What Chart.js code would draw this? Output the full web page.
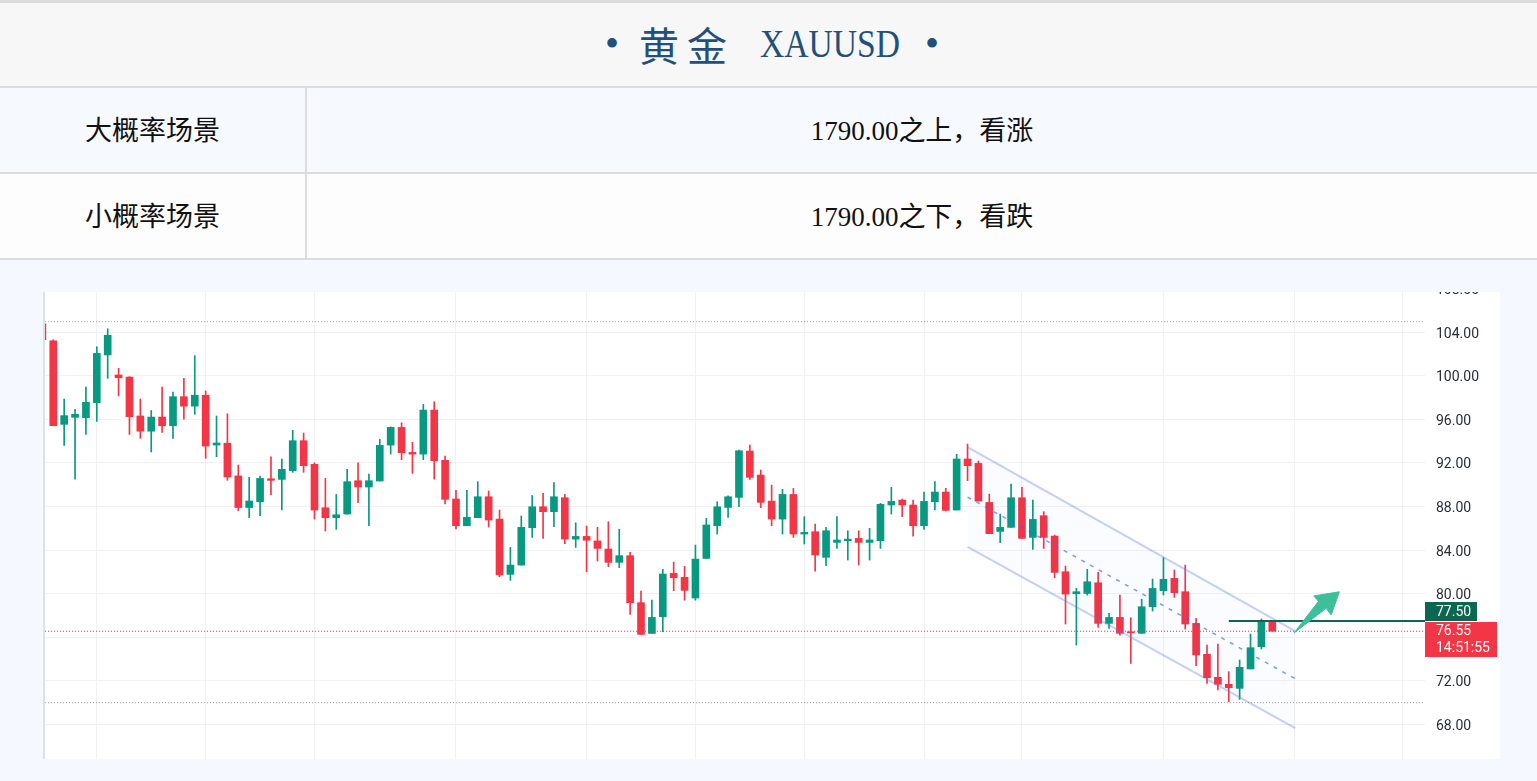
<!DOCTYPE html>
<html>
<head>
<meta charset="utf-8">
<script src="https://cdn.jsdelivr.net/npm/chart.js@4.4.0/dist/chart.umd.min.js"></script>
<style>
  html, body { margin: 0; padding: 0; }
  body { width: 1537px; height: 781px; background: #f5f9ff; position: relative; overflow: hidden;
         font-family: "Liberation Serif", "Noto Sans CJK SC", serif; color: #111; }
  #title { position: absolute; left: 0; top: 0; width: 1537px; height: 83px; background: #f7f7f7;
           border-top: 3px solid #dcdcdc; border-bottom: 2px solid #dcdcdc; color: #22507a; }
  #title span { position: absolute; top: 21px; line-height: 40px; font-size: 40px; white-space: nowrap; }
  #title .cn { font-family: "Noto Sans CJK SC"; letter-spacing: 8px; }
  #title .en { font-family: "Liberation Serif"; transform: scaleX(0.84); transform-origin: left center; }
  .row { position: absolute; left: 0; width: 1537px; height: 84px; border-bottom: 2px solid #dcdcdc; display: flex; }
  .row .k { width: 307px; border-right: 2px solid #dcdcdc; display: flex; align-items: center; justify-content: center;
            font-size: 27px; padding-bottom: 4px; box-sizing: border-box; }
  .row .v { flex: 1; display: flex; align-items: center; justify-content: center; font-size: 27px; padding-bottom: 4px; }
  #r1 { top: 88px; background: #f6faff; }
  #r2 { top: 174px; background: #fdfdfd; }
  #panel { position: absolute; left: 43px; top: 292px; width: 1457px; height: 467px; background: #fff;
           border-left: 2px solid #dde1ea; box-sizing: border-box; overflow: hidden; }
  #inner { position: absolute; left: 0; top: -22px; width: 1455px; height: 489px; }
</style>
</head>
<body>
<div id="title">
  <span style="left:605px">•</span>
  <span class="cn" style="left:639px">黄金</span>
  <span class="en" style="left:760px">XAUUSD</span>
  <span style="left:925px">•</span>
</div>
<div class="row" id="r1"><div class="k">大概率场景</div><div class="v">1790.00之上，看涨</div></div>
<div class="row" id="r2"><div class="k">小概率场景</div><div class="v">1790.00之下，看跌</div></div>
<div id="panel"><div id="inner"><canvas id="c"></canvas></div></div>

<script>
// candles
var opens  = [104.75,103.2,95.53,96.17,96.14,97.52,101.9,100.06,99.87,96.3,
              94.9,96.2,95.4,98.07,97.2,98.2,93.63,93.8,90.8,87.9,
              88.43,90.54,90.48,91.28,94.03,91.86,87.88,86.97,87.3,90.36,
              89.78,90.33,93.63,95.25,92.96,92.8,96.84,92.23,88.68,86.23,
              86.97,88.89,86.84,81.77,82.62,86.05,87.97,87.52,88.8,85.0,
              85.25,84.83,84.09,82.87,83.48,79.17,76.35,77.88,81.86,81.5,
              79.6,83.23,86.23,87.91,88.83,93.08,90.88,88.49,86.84,89.1,
              85.47,85.68,83.33,84.7,84.86,85.07,84.7,84.86,88.13,88.58,
              88.13,86.23,88.43,89.32,87.67,92.35,91.95,88.37,85.71,86.08,
              88.8,85.16,87.15,85.28,82.01,79.99,80.02,81.0,77.27,77.82,
              76.5,76.36,78.8,80.27,81.4,80.18,77.27,74.43,72.32,71.68,
              71.31,73.09,75.13,77.43];
var highs  = [104.8,103.3,97.85,96.9,98.95,102.65,104.3,100.67,99.9,97.85,
              96.8,98.95,98.5,99.75,101.83,98.6,96.3,96.5,91.8,90.67,
              90.79,92.56,92.35,94.98,94.73,92.0,90.57,89.1,91.4,92.0,
              90.97,94.15,95.3,95.68,93.88,97.36,97.6,92.63,89.47,89.47,
              90.27,89.41,87.67,84.24,87.12,89.0,89.2,90.18,89.1,86.5,
              86.2,86.08,86.6,85.9,83.78,80.24,79.41,82.23,82.9,82.5,
              84.46,86.9,88.43,88.98,93.17,93.63,91.34,89.96,89.57,89.65,
              87.06,86.38,86.08,87.06,85.77,85.77,85.99,88.28,89.75,88.68,
              88.58,89.32,90.27,89.66,92.78,93.72,92.16,89.13,87.3,90.06,
              89.75,88.58,87.52,85.38,82.53,80.48,82.23,81.95,78.19,79.87,
              77.79,79.5,81.34,83.3,82.17,82.62,77.73,75.28,75.38,72.84,
              73.91,76.29,77.67,77.5];
var lows   = [103.3,95.4,93.6,90.5,94.6,95.8,99.75,98.13,94.6,94.25,
              93.0,94.8,94.25,96.0,96.45,92.41,92.56,90.4,87.6,86.97,
              87.15,89.05,87.67,91.13,91.13,86.84,85.74,85.9,87.3,88.34,
              86.23,90.33,92.8,92.29,91.03,92.29,90.5,88.22,85.93,86.23,
              86.97,86.11,81.55,81.22,82.62,85.16,85.07,86.14,84.58,84.24,
              82.0,82.99,82.47,82.38,78.1,76.26,76.35,76.5,80.27,79.4,
              79.4,83.23,85.47,87.0,87.97,90.48,87.88,86.23,85.47,85.16,
              84.55,82.07,82.56,84.15,83.08,82.62,83.08,84.15,87.3,87.06,
              85.28,85.89,87.67,87.58,87.67,90.36,88.49,85.5,84.67,86.08,
              85.07,84.06,84.15,81.46,77.21,75.28,79.87,76.9,76.81,76.2,
              73.6,76.36,78.4,79.87,79.66,76.75,73.39,71.77,71.16,70.09,
              70.3,73.09,74.92,76.55];
var closes = [103.3,95.4,96.33,96.45,97.55,102.04,103.7,99.8,96.23,94.9,
              96.2,95.4,98.07,97.2,98.2,93.54,93.82,90.7,87.9,88.5,
              90.57,90.39,91.4,94.03,91.74,87.67,86.97,87.24,90.27,89.78,
              90.36,93.6,95.25,92.93,92.8,96.84,92.2,88.65,86.23,87.0,
              88.89,86.75,81.71,82.62,86.08,87.97,87.52,88.89,85.0,85.25,
              84.9,84.15,82.87,83.48,79.17,76.26,77.82,81.8,81.46,80.3,
              83.17,86.3,87.97,88.89,93.11,90.67,88.37,86.84,89.1,85.47,
              85.62,83.54,85.77,84.92,85.0,84.7,84.92,88.19,88.46,88.13,
              86.23,88.46,89.32,87.64,92.35,91.74,88.49,85.5,86.08,88.8,
              85.07,86.81,85.16,81.95,79.96,80.18,81.09,77.27,77.82,76.36,
              76.4,78.8,80.48,81.31,80.09,77.21,74.37,72.29,71.68,71.37,
              73.24,75.04,77.43,76.55];

var yTicks = [68, 72, 76, 80, 84, 88, 92, 96, 100, 104, 108];
var xGrid = [5, 15, 25, 38, 50, 60, 70, 81, 90, 103, 115, 125];
var xMin = 0.24, xMax = 127.03;
var yMin = 64.83, yMax = 109.69;

var lastPrice = 76.55;
var countdown = '14:51:55';
var levelPrice = 77.5;
var levelStart = 109;
var topDotted = 104.95;
var bottomDotted = 70.0;

// drawn channel
var chanX = [85, 115.1];
var chanUpper = [93.45, 76.57];
var chanMid = [88.86, 72.2];
var chanLower = [84.28, 67.67];

// arrow outline
var arrowX = [115.0, 117.95, 118.41, 119.16, 116.81, 117.25, 115.0];
var arrowY = [76.4, 78.65, 78.03, 80.17, 79.79, 79.3, 76.4];

var upColor = '#089981';
var downColor = '#f23645';

function candleColor(c) {
  var i = c.dataIndex;
  return closes[i] >= opens[i] ? upColor : downColor;
}
function pts(xs, ys) {
  return xs.map(function(x, i) { return {x: x, y: ys[i]}; });
}
function hline(v, x0, x1) {
  return [{x: x0, y: v}, {x: x1, y: v}];
}

var lineBase = { type: 'line', pointRadius: 0, fill: false, tension: 0 };

var priceLabels = {
  id: 'priceLabels',
  afterDraw: function(chart) {
    var ctx = chart.ctx;
    var x0 = chart.chartArea.right;
    var yRed = chart.scales.y.getPixelForValue(lastPrice);
    var redTop = Math.round(yRed - 9);
    ctx.save();
    ctx.fillStyle = downColor;
    ctx.fillRect(x0, redTop, 72, 35);
    ctx.fillStyle = '#0c6650';
    ctx.fillRect(x0, redTop - 20, 52, 19);
    ctx.fillStyle = '#fff';
    ctx.font = '14px Roboto';
    ctx.textBaseline = 'middle';
    ctx.textAlign = 'left';
    ctx.fillText(levelPrice.toFixed(2), x0 + 11, redTop - 10);
    ctx.fillText(lastPrice.toFixed(2), x0 + 11, redTop + 9);
    ctx.fillText(countdown, x0 + 11, redTop + 26);
    ctx.restore();
  }
};

Chart.defaults.font.family = 'Roboto';

var ctx = document.getElementById('c').getContext('2d');
new Chart(ctx, {
  type: 'bar',
  data: {
    datasets: [
      Object.assign({}, lineBase, {
        data: pts(arrowX, arrowY), fill: 'shape',
        backgroundColor: '#3dbf9c', borderColor: '#3dbf9c', borderWidth: 1
      }),
      Object.assign({}, lineBase, {
        data: hline(levelPrice, levelStart, xMax), borderColor: '#0c6650', borderWidth: 2
      }),
      Object.assign({}, lineBase, {
        data: pts(chanX, chanUpper), borderColor: 'rgba(90,120,235,0.35)', borderWidth: 2
      }),
      Object.assign({}, lineBase, {
        data: pts(chanX, chanMid), borderColor: 'rgba(60,100,240,0.65)', borderWidth: 1.5, borderDash: [4, 6]
      }),
      Object.assign({}, lineBase, {
        data: pts(chanX, chanLower), borderColor: 'rgba(90,120,235,0.35)', borderWidth: 2,
        fill: 2, backgroundColor: 'rgba(41,98,255,0.018)'
      }),
      Object.assign({}, lineBase, {
        data: hline(lastPrice, xMin, xMax), borderColor: downColor, borderWidth: 1, borderDash: [1, 2]
      }),
      Object.assign({}, lineBase, {
        data: hline(topDotted, xMin, xMax), borderColor: '#a3a6ae', borderWidth: 1, borderDash: [1, 2]
      }),
      Object.assign({}, lineBase, {
        data: hline(bottomDotted, xMin, xMax), borderColor: '#a3a6ae', borderWidth: 1, borderDash: [1, 2]
      }),
      {
        data: opens.map(function(o, i) { return {x: i, y: [o, closes[i]]}; }),
        backgroundColor: candleColor, barThickness: 7, minBarLength: 1,
        grouped: false, borderWidth: 0, borderSkipped: false
      },
      {
        data: lows.map(function(l, i) { return {x: i, y: [l, highs[i]]}; }),
        backgroundColor: candleColor, barThickness: 1,
        grouped: false, borderWidth: 0, borderSkipped: false
      }
    ]
  },
  options: {
    responsive: true,
    maintainAspectRatio: false,
    animation: false,
    layout: { padding: 0, autoPadding: false },
    plugins: { legend: { display: false }, tooltip: { enabled: false } },
    scales: {
      x: {
        type: 'linear', min: xMin, max: xMax, offset: false,
        grid: { color: '#eff1f5', drawTicks: false, offset: false },
        border: { display: false },
        ticks: { display: false },
        afterBuildTicks: function(s) { s.ticks = xGrid.map(function(v) { return {value: v}; }); },
        afterFit: function(s) { s.height = 0; s.paddingLeft = 0; s.paddingRight = 0; }
      },
      y: {
        position: 'right', min: yMin, max: yMax,
        grid: { color: '#eff1f5', drawTicks: false },
        border: { display: false },
        ticks: {
          padding: 11, labelOffset: 2, color: '#2a2e39', font: { size: 14 },
          callback: function(v) { return Number(v).toFixed(2); }
        },
        afterBuildTicks: function(s) { s.ticks = yTicks.map(function(v) { return {value: v}; }); },
        afterFit: function(s) { s.width = 75; s.paddingTop = 0; s.paddingBottom = 0; }
      }
    }
  },
  plugins: [priceLabels]
});
</script>
</body>
</html>
